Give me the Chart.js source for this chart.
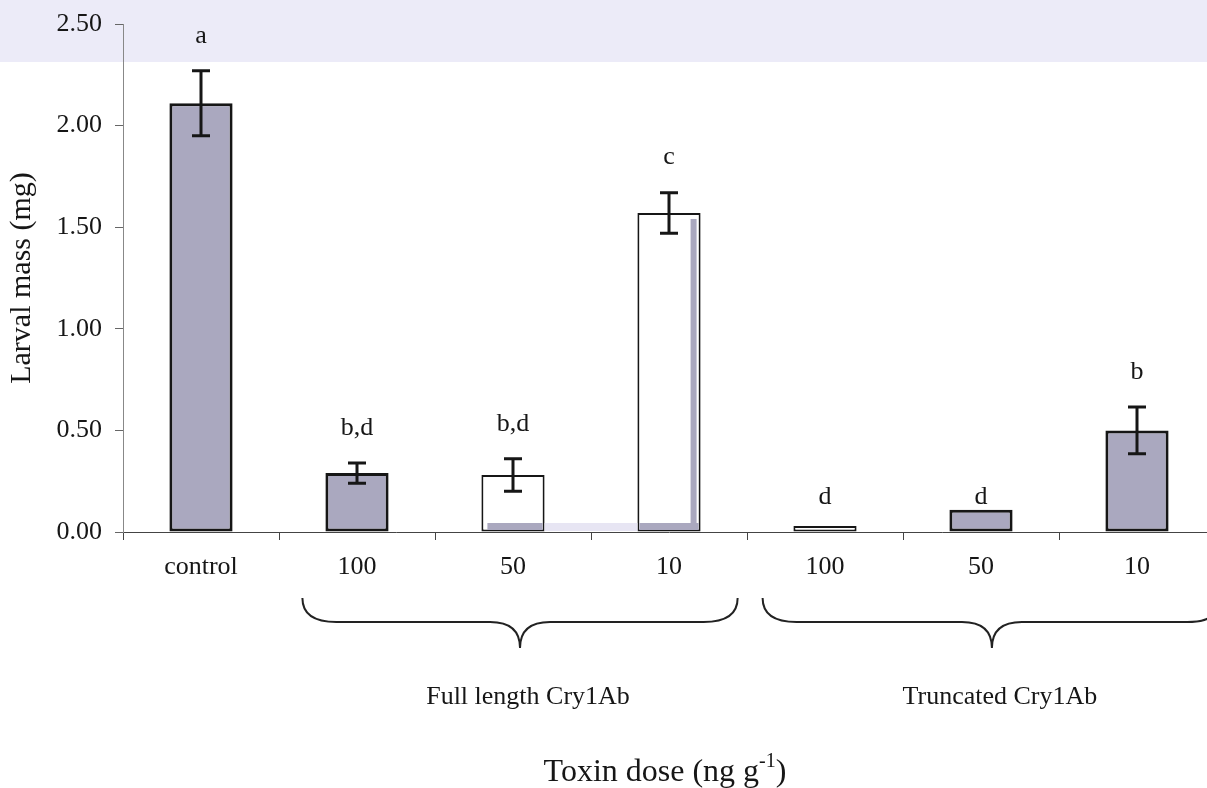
<!DOCTYPE html>
<html>
<head>
<meta charset="utf-8">
<title>Larval mass by toxin dose</title>
<script src="https://cdn.jsdelivr.net/npm/chart.js@4.4.1/dist/chart.umd.min.js"></script>
<style>
  html, body { margin: 0; padding: 0; overflow: hidden; }
  body { width: 1207px; height: 788px; background: linear-gradient(#ecebf8 0, #ecebf8 62px, #fff 62px); }
  canvas { display: block; }
</style>
</head>
<body>
<canvas id="massChart" width="1216" height="788"></canvas>
<script>
// larval mass (mg) per treatment, mean and standard error
const doses = ['control', '100', '50', '10', '100', '50', '10'];
const meanMass = [2.11, 0.29, 0.28, 1.57, 0.03, 0.11, 0.50];
const semMass = [0.16, 0.05, 0.08, 0.10, 0, 0, 0.115];
const letters = ['a', 'b,d', 'b,d', 'c', 'd', 'd', 'b'];
const yTicks = [0, 0.5, 1, 1.5, 2, 2.5];

// toxin groups under the dose labels (first and last category index)
const groupNames = ['Full length Cry1Ab', 'Truncated Cry1Ab'];
const groupFirst = [1, 4];
const groupLast = [3, 6];

const SERIF = '"Liberation Serif", "Times New Roman", serif';
const INK = '#161616';
const SHADE = '#aaa8bf';
const hollowBars = [2, 3, 4];

const annotate = {
    id: 'annotate',
    afterDatasetsDraw(chart) {
        const { ctx, scales: { y } } = chart;
        const bars = chart.getDatasetMeta(0).data;
        const zero = y.getPixelForValue(0);
        ctx.save();

        // smeared shading along the base of the 50 and 10 full length bars
        const b50 = bars[2], b10 = bars[3];
        ctx.fillStyle = '#e7e5f3';
        ctx.fillRect(b50.x + b50.width / 2, zero - 9, (b10.x - b10.width / 2) - (b50.x + b50.width / 2), 8);
        ctx.fillStyle = SHADE;
        ctx.fillRect(b50.x - b50.width / 2 + 6, zero - 9, b50.width - 8, 7);
        ctx.fillRect(b10.x - b10.width / 2 + 2, zero - 9, b10.width - 4, 7);
        ctx.fillRect(b10.x + b10.width / 2 - 10, b10.y + 6, 6, zero - b10.y - 8);

        // error bars
        ctx.strokeStyle = INK;
        ctx.lineWidth = 3;
        meanMass.forEach((m, i) => {
            if (!semMass[i]) return;
            const cx = bars[i].x;
            const hi = y.getPixelForValue(m + semMass[i]);
            const lo = y.getPixelForValue(m - semMass[i]);
            ctx.beginPath();
            ctx.moveTo(cx, hi); ctx.lineTo(cx, lo);
            ctx.moveTo(cx - 9, hi); ctx.lineTo(cx + 9, hi);
            ctx.moveTo(cx - 9, lo); ctx.lineTo(cx + 9, lo);
            ctx.stroke();
        });

        // significance letters
        ctx.fillStyle = INK;
        ctx.font = `26px ${SERIF}`;
        ctx.textAlign = 'center';
        ctx.textBaseline = 'middle';
        letters.forEach((t, i) => {
            const top = semMass[i] ? y.getPixelForValue(meanMass[i] + semMass[i]) : zero;
            ctx.fillText(t, bars[i].x, top - 35);
        });
        ctx.restore();
    },
    afterDraw(chart) {
        const { ctx, chartArea, scales: { x, y } } = chart;
        const zero = y.getPixelForValue(0);
        const catW = x.getPixelForValue(1) - x.getPixelForValue(0);
        const reach = [[0.35, 0.44], [0.40, 0.54]];
        const yTop = zero + 66, yMid = zero + 90, yBot = zero + 116;
        ctx.save();
        ctx.strokeStyle = '#222';
        ctx.lineWidth = 2;
        ctx.fillStyle = INK;
        ctx.textAlign = 'center';
        ctx.textBaseline = 'middle';
        groupNames.forEach((name, g) => {
            const x0 = x.getPixelForValue(groupFirst[g]) - reach[g][0] * catW;
            const x1 = x.getPixelForValue(groupLast[g]) + reach[g][1] * catW;
            const xc = (x0 + x1) / 2;
            ctx.beginPath();
            ctx.moveTo(x0, yTop);
            ctx.quadraticCurveTo(x0, yMid, x0 + 34, yMid);
            ctx.lineTo(xc - 30, yMid);
            ctx.quadraticCurveTo(xc, yMid, xc, yBot);
            ctx.quadraticCurveTo(xc, yMid, xc + 30, yMid);
            ctx.lineTo(x1 - 34, yMid);
            ctx.quadraticCurveTo(x1, yMid, x1, yTop);
            ctx.stroke();
            ctx.font = `26px ${SERIF}`;
            ctx.fillText(name, xc + 8, zero + 165);
        });

        // axis title with superscript exponent
        const main = 'Toxin dose (ng g', sup = '-1', tail = ')';
        ctx.font = `32px ${SERIF}`;
        const wMain = ctx.measureText(main).width, wTail = ctx.measureText(tail).width;
        ctx.font = `20px ${SERIF}`;
        const wSup = ctx.measureText(sup).width;
        const cx = (chartArea.left + chartArea.right) / 2 - 4;
        let tx = cx - (wMain + wSup + wTail) / 2;
        const ty = zero + 241;
        ctx.textAlign = 'left';
        ctx.font = `32px ${SERIF}`;
        ctx.fillText(main, tx, ty);
        tx += wMain;
        ctx.font = `20px ${SERIF}`;
        ctx.fillText(sup, tx, ty - 11);
        tx += wSup;
        ctx.font = `32px ${SERIF}`;
        ctx.fillText(tail, tx, ty);
        ctx.restore();
    }
};

const massChart = new Chart(document.getElementById('massChart').getContext('2d'), {
    type: 'bar',
    data: {
        labels: doses,
        datasets: [{
            label: 'Larval mass (mg)',
            data: meanMass,
            backgroundColor: ctx => hollowBars.includes(ctx.dataIndex) ? '#ffffff' : SHADE,
            borderColor: INK,
            borderWidth: ctx => hollowBars.includes(ctx.dataIndex) ? 2 : 3,
            borderSkipped: false,
            categoryPercentage: 1,
            barPercentage: 0.405
        }]
    },
    options: {
        responsive: false,
        animation: false,
        devicePixelRatio: 1,
        layout: { padding: { top: 24, right: 1, left: 0, bottom: 0 } },
        plugins: { legend: { display: false }, tooltip: { enabled: false } },
        scales: {
            x: {
                grid: { offset: true, drawOnChartArea: false, drawTicks: true, tickLength: 8, tickColor: '#444' },
                border: { color: '#444', width: 1 },
                ticks: { color: INK, font: { family: SERIF, size: 26 }, padding: 12 },
                afterFit: scale => { scale.height = 256; }
            },
            y: {
                min: 0,
                max: 2.5,
                afterBuildTicks: scale => { scale.ticks = yTicks.map(v => ({ value: v })); },
                grid: { drawOnChartArea: false, drawTicks: true, tickLength: 8, tickColor: '#666' },
                border: { color: '#888', width: 1 },
                ticks: { color: INK, font: { family: SERIF, size: 26 }, padding: 13, callback: v => v.toFixed(2) },
                title: { display: true, text: 'Larval mass (mg)', color: INK, font: { family: SERIF, size: 30 }, padding: { top: 4, bottom: 0 } },
                afterFit: scale => {
                    scale.width = 123;
                    scale.paddingTop = 0;
                    scale.paddingBottom = 0;
                }
            }
        }
    },
    plugins: [annotate]
});
</script>
</body>
</html>
